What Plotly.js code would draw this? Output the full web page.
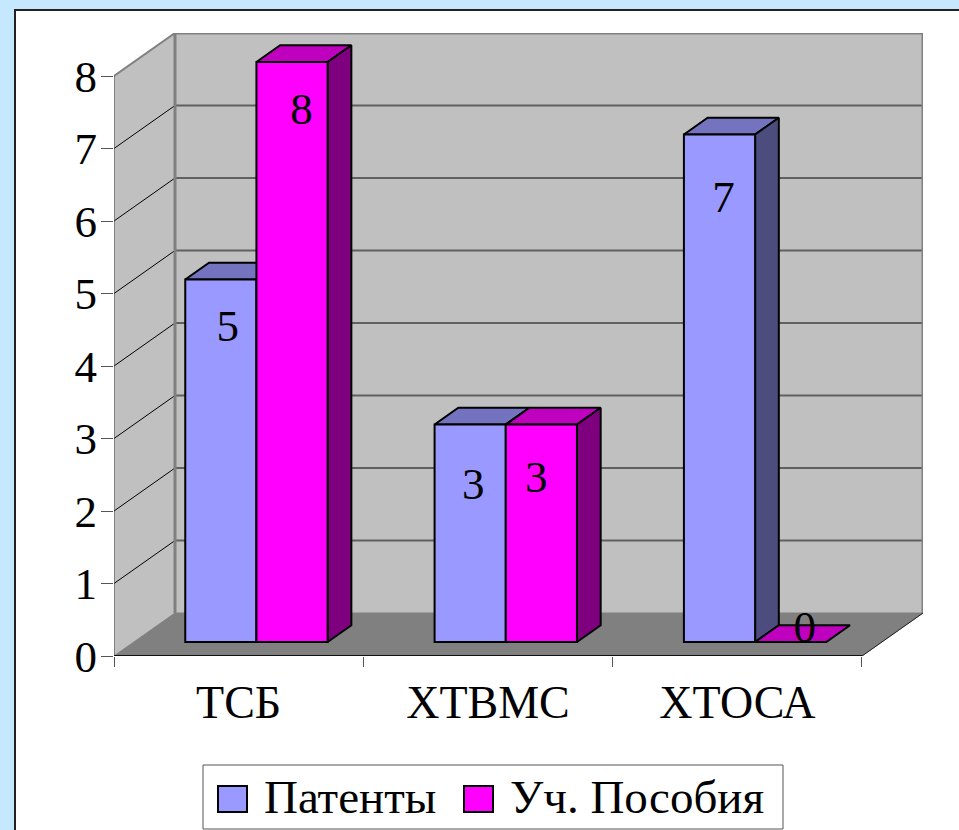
<!DOCTYPE html>
<html>
<head>
<meta charset="utf-8">
<script src="https://cdn.plot.ly/plotly-3.0.1.min.js"></script>
<style>html,body{margin:0;padding:0;overflow:hidden;background:#C5E8FF}</style>
</head>
<body>
<div id="chart" style="width:959px;height:830px"></div>
<script>
// Chart data
const categories = ['ТСБ', 'ХТВМС', 'ХТОСА'];
const patents = [5, 3, 7];
const textbooks = [8, 3, 0];
const seriesNames = ['Патенты', 'Уч. Пособия'];
const valueTicks = [0, 1, 2, 3, 4, 5, 6, 7, 8];

// Value-label nudges: drop below the bar top (value units), sideways shift (category units)
const patentLabelDrop = [0.70, 0.87, 0.91];
const textbookLabelDrop = [0.70, 0.77, -0.16];
const patentLabelShift = [0.028, 0.012, 0.016];
const textbookLabelShift = [0.038, -0.02, 0.056];

// Oblique projection: a point at depth d (0 = front, 1 = back wall)
const DEPTH_X = 61 / 249.33;   // category units
const DEPTH_Y = 43 / 72.5;     // value units
const px = (c, d) => c + d * DEPTH_X;
const py = (v, d) => v + d * DEPTH_Y;

// Layout of the plot box
const M = {l: 114, r: 36, t: 33, b: 174};
const W = 959, H = 830;
const plotW = W - M.l - M.r, plotH = H - M.t - M.b;
const xMax = plotW / 249.33, yMax = plotH / 72.5;
const nCat = categories.length, vMax = valueTicks[valueTicks.length - 1];

// Bar geometry inside a category
const BAR_FRONT = 0.326, BAR_BACK = 0.715;
const BAR_INSET = 0.206, BAR_W = 0.2855;

const FONT = 'Liberation Serif, Times New Roman, serif';
const TXT = 45;
const LEGEND_TXT = 47;

function poly(xs, ys, fill, lineColor, lineWidth) {
  return {type: 'scatter', mode: 'lines', x: xs.concat(xs[0]), y: ys.concat(ys[0]),
    fill: 'toself', fillcolor: fill, cliponaxis: false, hoverinfo: 'skip', showlegend: false,
    line: {color: lineColor || fill, width: lineWidth === undefined ? 1 : lineWidth}};
}
function seg(xs, ys, color, width) {
  return {type: 'scatter', mode: 'lines', x: xs, y: ys, cliponaxis: false, hoverinfo: 'skip',
    showlegend: false, line: {color: color, width: width}};
}

const traces = [];

// Walls and floor of the chart box
traces.push(poly([px(0,1), px(nCat,1), px(nCat,1), px(0,1)], [py(0,1), py(0,1), py(vMax,1), py(vMax,1)], '#C0C0C0'));
traces.push(poly([px(0,0), px(0,1), px(0,1), px(0,0)], [0, py(0,1), py(vMax,1), vMax], '#C0C0C0'));
traces.push(poly([px(0,0), px(nCat,0), px(nCat,1), px(0,1)], [0, 0, py(0,1), py(0,1)], '#808080'));

// Gridlines on the back and side walls
valueTicks.slice(1, -1).forEach(v => {
  traces.push(seg([px(0,1), px(nCat,1)], [py(v,1), py(v,1)], '#606060', 2));
  traces.push(seg([px(0,0), px(0,1)], [v, py(v,1)], '#000000', 1));
});

// Outline of the box
traces.push(seg([px(0,1), px(0,1), px(nCat,1), px(nCat,1)], [py(0,1), py(vMax,1), py(vMax,1), py(0,1)], '#808080', 3));
traces.push(seg([px(0,0), px(0,1)], [vMax, py(vMax,1)], '#808080', 2));
traces.push(seg([px(0,0), px(0,0)], [0, vMax], '#444444', 1));
traces.push(seg([px(0,0), px(nCat,0)], [0, 0], '#111111', 2));
traces.push(seg([px(nCat,0), px(nCat,1)], [0, py(0,1)], '#222222', 1));

// Top and side faces of each bar
function addFaces(values, slot, topColor, sideColor) {
  values.forEach((v, i) => {
    const a = i + BAR_INSET + slot * BAR_W, b = a + BAR_W;
    traces.push(poly([px(a,BAR_FRONT), px(b,BAR_FRONT), px(b,BAR_BACK), px(a,BAR_BACK)],
      [py(v,BAR_FRONT), py(v,BAR_FRONT), py(v,BAR_BACK), py(v,BAR_BACK)], topColor, '#000000', 2));
    if (v > 0) {
      traces.push(poly([px(b,BAR_FRONT), px(b,BAR_BACK), px(b,BAR_BACK), px(b,BAR_FRONT)],
        [py(0,BAR_FRONT), py(0,BAR_BACK), py(v,BAR_BACK), py(v,BAR_FRONT)], sideColor, '#000000', 2));
    }
  });
}
addFaces(patents, 0, '#7373BF', '#4C4C7F');
addFaces(textbooks, 1, '#BF00BF', '#7F007F');

// Front faces, drawn on an overlay so they cover the faces behind them
function frontBars(values, slot, name, color) {
  return {type: 'bar', name: name, xaxis: 'x2', yaxis: 'y2', showlegend: false,
    x: values.map((v, i) => px(i + BAR_INSET + (slot + 0.5) * BAR_W, BAR_FRONT)),
    y: values, base: values.map(() => py(0, BAR_FRONT)), width: values.map(() => BAR_W),
    marker: {color: color, line: {color: '#000000', width: 2}}, hoverinfo: 'x+y'};
}
traces.push(frontBars(patents, 0, seriesNames[0], '#9999FF'));
traces.push(frontBars(textbooks, 1, seriesNames[1], '#FF00FF'));

// Value labels
function valueLabels(values, slot, drop, shift) {
  return {type: 'scatter', mode: 'text', xaxis: 'x2', yaxis: 'y2', showlegend: false, cliponaxis: false,
    x: values.map((v, i) => px(i + BAR_INSET + (slot + 0.5) * BAR_W + shift[i], BAR_FRONT)),
    y: values.map((v, i) => py(v, BAR_FRONT) - drop[i]),
    text: values.map(String), textposition: 'middle center', hoverinfo: 'skip',
    textfont: {family: FONT, size: TXT, color: '#000000'}};
}
traces.push(valueLabels(patents, 0, patentLabelDrop, patentLabelShift));
traces.push(valueLabels(textbooks, 1, textbookLabelDrop, textbookLabelShift));

// Page-pixel helpers for the frame and the legend
const fx = p => (p - M.l) / plotW;
const fy = p => (H - M.b - p) / plotH;
function box(x0, y0, x1, y1, fill, line, width) {
  return {type: 'rect', xref: 'paper', yref: 'paper', layer: 'below',
    x0: fx(x0), x1: fx(x1), y0: fy(y0), y1: fy(y1), fillcolor: fill, line: {color: line, width: width}};
}
const legendLabel = (text, left) => ({xref: 'paper', yref: 'paper', x: fx(left), y: fy(797),
  xanchor: 'left', yanchor: 'middle', showarrow: false, text: text,
  font: {family: FONT, size: LEGEND_TXT, color: '#000000'}});

const layout = {
  width: W, height: H, margin: M, autosize: false, showlegend: false,
  paper_bgcolor: '#C5E8FF', plot_bgcolor: 'rgba(0,0,0,0)', barmode: 'overlay',
  font: {family: FONT, size: TXT, color: '#000000'},
  xaxis: {range: [0, xMax], tickmode: 'array', tickvals: [0.5, 1.5, 2.5], ticktext: categories,
    ticks: '', ticklabelstandoff: 15, showgrid: false, zeroline: false, showline: false,
    tickfont: {family: FONT, size: 46, color: '#000000'},
    minor: {tickmode: 'array', tickvals: [0, 1, 2, 3], ticks: 'outside', ticklen: 10, tickwidth: 1, tickcolor: '#555555', showgrid: false}},
  yaxis: {range: [0, yMax], tickmode: 'array', tickvals: valueTicks, ticks: 'outside', ticklen: 12,
    tickwidth: 1, tickcolor: '#555555', ticklabelstandoff: -5, showgrid: false, zeroline: false, showline: false,
    tickfont: {family: FONT, size: TXT, color: '#000000'}},
  xaxis2: {range: [0, xMax], overlaying: 'x', visible: false},
  yaxis2: {range: [0, yMax], overlaying: 'y', visible: false},
  shapes: [
    box(15, 10, 975, 850, '#FFFFFF', '#222222', 2),
    box(203, 765, 783, 829, '#FFFFFF', '#555555', 1),
    box(218, 786, 247, 812, '#9999FF', '#000000', 2),
    box(464, 786, 493, 812, '#FF00FF', '#000000', 2)
  ],
  annotations: [legendLabel(seriesNames[0], 262), legendLabel(seriesNames[1], 508)]
};

Plotly.newPlot('chart', traces, layout, {displayModeBar: false, staticPlot: true});
</script>
</body>
</html>
